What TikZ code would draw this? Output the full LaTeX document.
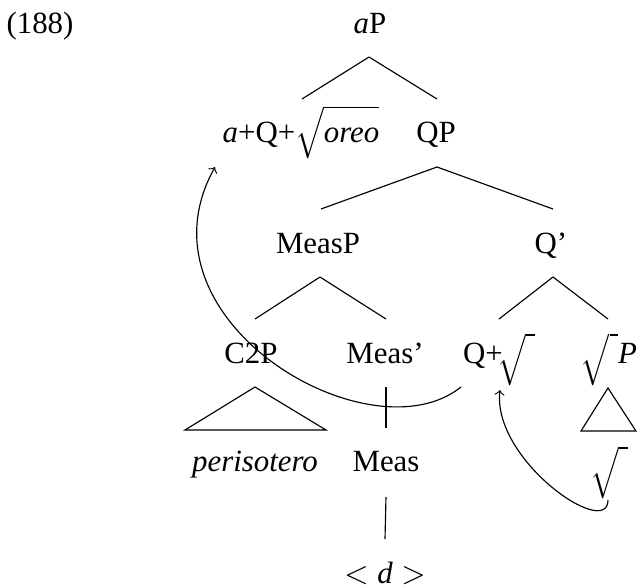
\documentclass[tikz,border=0pt]{standalone}
\usepackage{fontspec}
\setmainfont{Liberation Serif}
\usetikzlibrary{calc}
\tikzset{
  lbl/.style={anchor=base, inner sep=0pt, font=\fontsize{10.8pt}{13pt}\selectfont},
}
\newcommand{\rootsign}{$\sqrt{\rule[-0.5em]{0pt}{1.1em}\;}$}

\begin{document}
\begin{tikzpicture}[x=0.35pt, y=-0.35pt]
  \useasboundingbox (0,0) rectangle (641,586);

  % example number
  \node[lbl] (ex) at (40,33) {(188)};

  % tree labels
  \node[lbl] (aP) at (370,33) {\textit{a}P};
  \node[lbl] (aQ) at (301,142) {\textit{a}+Q+$\sqrt{\textit{oreo}\rule[-0.3em]{0pt}{1.1em}}$};
  \node[lbl] (QP) at (436,142) {QP};
  \node[lbl] (MeasP) at (318,253) {MeasP};
  \node[lbl] (Qbar) at (551,253) {Q'};
  \node[lbl] (C2P) at (251,363) {C2P};
  \node[lbl] (Measbar) at (385,363) {Meas'};
  \node[lbl] (Qroot) at (499,363) {Q+\!\rootsign};
  \node[lbl] (rootP) at (609,363) {\rootsign\textit{P}};
  \node[lbl] (peris) at (255,471) {\textit{perisotero}};
  \node[lbl] (Meas) at (386,471) {Meas};
  \node[lbl] (root) at (609,476) {\rootsign};
  \node[lbl] (d) at (385,583) {$<\textit{d}>$};

  % branches
  \draw ($(aP.base)+(-1,24)$) -- ($(aQ.base)+(1,-43)$);
  \draw ($(aP.base)+(-1,24)$) -- ($(QP.base)+(1,-43)$);
  \draw ($(QP.base)+(1,25)$) -- ($(MeasP.base)+(3,-44)$);
  \draw ($(QP.base)+(1,25)$) -- ($(Qbar.base)+(2,-44)$);
  \draw ($(MeasP.base)+(2,24)$) -- ($(C2P.base)+(4,-44)$);
  \draw ($(MeasP.base)+(2,24)$) -- ($(Measbar.base)+(1,-44)$);
  \draw ($(Qbar.base)+(2,24)$) -- ($(Qroot.base)+(0,-44)$);
  \draw ($(Qbar.base)+(2,24)$) -- ($(rootP.base)+(-1,-44)$);
  \draw ($(Measbar.base)+(1,24)$) -- ($(Meas.base)+(0,-43)$);
  \draw ($(Meas.base)+(0,26)$) -- ($(d.base)+(0,-44)$);

  % triangles
  \draw ($(C2P.base)+(4,24)$) -- ($(peris.base)+(-70,-41)$) -- ($(peris.base)+(71,-41)$) -- cycle;
  \draw ($(rootP.base)+(-1,25)$) -- ($(rootP.base)+(-28,68)$) -- ($(rootP.base)+(27,68)$) -- cycle;

  % movement arrows
  \draw[->] ($(Qroot.base)+(-38,24)$) .. controls ($(Qroot.base)+(-129,97)$) and ($(aQ.base)+(-171,178)$) .. ($(aQ.base)+(-86,25)$);
  \draw[->] ($(root.base)+(-1,24)$) .. controls ($(root.base)+(-1,64)$) and ($(Qroot.base)+(-7,97)$) .. ($(Qroot.base)+(1,27)$);
\end{tikzpicture}
\end{document}
